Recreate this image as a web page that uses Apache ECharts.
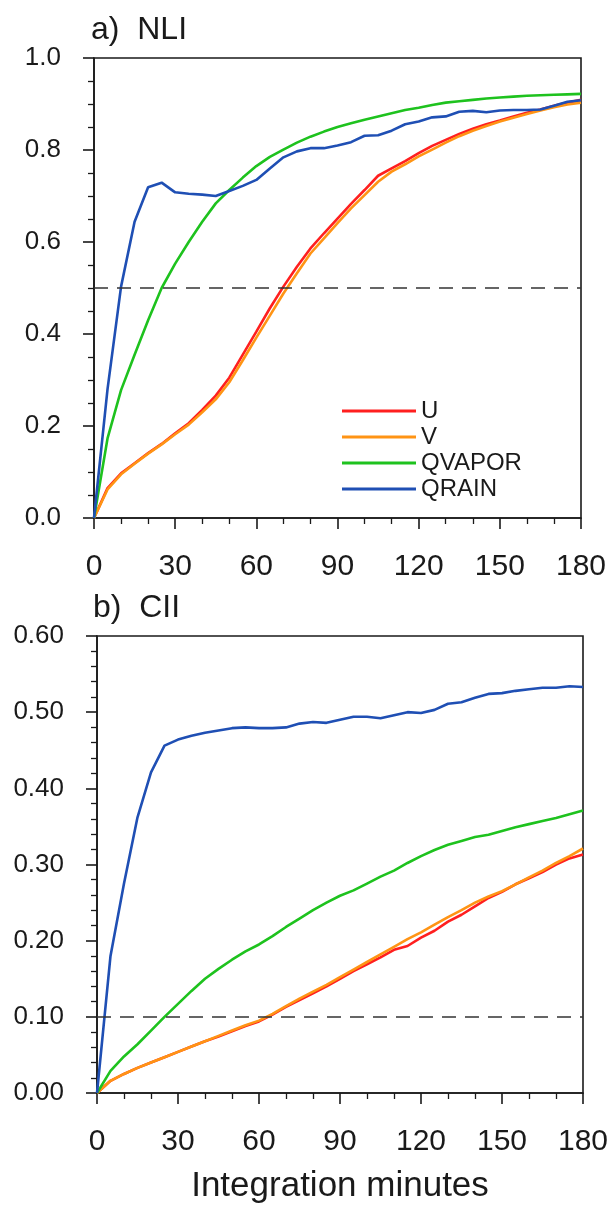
<!DOCTYPE html>
<html>
<head>
<meta charset="utf-8">
<script src="https://cdn.jsdelivr.net/npm/echarts@6/dist/echarts.min.js"></script>
<style>
  html, body { margin: 0; padding: 0; background: #fff; overflow: hidden; }
  #chart { width: 612px; height: 1205px; }
</style>
</head>
<body>
<div id="chart"></div>
<script>
// Integration time (minutes), every 5 minutes
const minutes = [0, 5, 10, 15, 20, 25, 30, 35, 40, 45,
  50, 55, 60, 65, 70, 75, 80, 85, 90, 95,
  100, 105, 110, 115, 120, 125, 130, 135, 140, 145,
  150, 155, 160, 165, 170, 175, 180];

const seriesNames = ['U', 'V', 'QVAPOR', 'QRAIN'];
const seriesColors = ['#ff1f1f', '#ff9414', '#1ec21e', '#1f4fb4'];

// a) NLI
const nliU = [0, 0.065, 0.097, 0.119, 0.141, 0.161, 0.184, 0.206, 0.235, 0.266,
  0.305, 0.355, 0.405, 0.456, 0.503, 0.546, 0.586, 0.619, 0.651, 0.683,
  0.713, 0.744, 0.760, 0.776, 0.793, 0.809, 0.822, 0.835, 0.846, 0.856,
  0.864, 0.873, 0.881, 0.888, 0.896, 0.903, 0.909];
const nliV = [0, 0.062, 0.095, 0.118, 0.140, 0.160, 0.182, 0.203, 0.230, 0.258,
  0.295, 0.343, 0.392, 0.440, 0.488, 0.532, 0.575, 0.608, 0.641, 0.673,
  0.702, 0.731, 0.753, 0.769, 0.786, 0.801, 0.816, 0.830, 0.842, 0.852,
  0.862, 0.870, 0.878, 0.886, 0.893, 0.899, 0.903];
const nliQvapor = [0, 0.173, 0.278, 0.355, 0.430, 0.500, 0.553, 0.600, 0.644, 0.684,
  0.713, 0.740, 0.765, 0.785, 0.801, 0.816, 0.829, 0.840, 0.850, 0.858,
  0.866, 0.873, 0.880, 0.887, 0.892, 0.898, 0.903, 0.906, 0.909, 0.912,
  0.914, 0.916, 0.918, 0.919, 0.920, 0.921, 0.922];
const nliQrain = [0, 0.280, 0.503, 0.644, 0.719, 0.729, 0.708, 0.705, 0.703, 0.700,
  0.711, 0.722, 0.735, 0.760, 0.784, 0.797, 0.804, 0.804, 0.810, 0.817,
  0.831, 0.832, 0.842, 0.856, 0.862, 0.871, 0.873, 0.883, 0.885, 0.882,
  0.886, 0.887, 0.887, 0.888, 0.896, 0.905, 0.908];

// b) CII
const ciiU = [0, 0.016, 0.025, 0.033, 0.040, 0.047, 0.054, 0.061, 0.068, 0.074,
  0.081, 0.088, 0.094, 0.103, 0.113, 0.122, 0.131, 0.140, 0.150, 0.160,
  0.169, 0.178, 0.188, 0.193, 0.204, 0.213, 0.225, 0.234, 0.245, 0.256,
  0.264, 0.274, 0.282, 0.290, 0.300, 0.308, 0.313];
const ciiV = [0, 0.016, 0.025, 0.033, 0.040, 0.047, 0.054, 0.061, 0.068, 0.075,
  0.082, 0.089, 0.095, 0.104, 0.114, 0.124, 0.133, 0.142, 0.152, 0.162,
  0.172, 0.182, 0.192, 0.202, 0.211, 0.221, 0.231, 0.240, 0.250, 0.258,
  0.265, 0.274, 0.283, 0.292, 0.302, 0.311, 0.321];
const ciiQvapor = [0, 0.029, 0.048, 0.064, 0.082, 0.100, 0.117, 0.134, 0.150, 0.163,
  0.175, 0.186, 0.195, 0.206, 0.218, 0.229, 0.240, 0.250, 0.259, 0.266,
  0.275, 0.284, 0.292, 0.302, 0.311, 0.319, 0.326, 0.331, 0.336, 0.339,
  0.344, 0.349, 0.353, 0.357, 0.361, 0.366, 0.371];
const ciiQrain = [0, 0.180, 0.275, 0.362, 0.421, 0.456, 0.464, 0.469, 0.473, 0.476,
  0.479, 0.480, 0.479, 0.479, 0.480, 0.485, 0.487, 0.486, 0.490, 0.494,
  0.494, 0.492, 0.496, 0.500, 0.499, 0.503, 0.511, 0.513, 0.519, 0.524,
  0.525, 0.528, 0.530, 0.532, 0.532, 0.534, 0.533];

// Threshold levels drawn as dashed lines
const nliThreshold = 0.5;
const ciiThreshold = 0.1;

const FONT = '"Liberation Sans", Arial, Helvetica, sans-serif';
const INK = '#1a1a1a';

function pairs(ys) {
  return minutes.map((m, i) => [m, ys[i]]);
}

function xAxisFor(gridIndex, withName) {
  const ax = {
    type: 'value', gridIndex: gridIndex, min: 0, max: 180, interval: 30,
    axisLine: { onZero: false, lineStyle: { color: INK, width: 1.6 } },
    axisTick: { show: true, inside: false, length: 11, lineStyle: { color: INK, width: 1.6 } },
    minorTick: { show: true, splitNumber: 3, length: 6, lineStyle: { color: INK, width: 1.3 } },
    splitLine: { show: false },
    axisLabel: { fontFamily: FONT, fontSize: 30, color: INK, margin: 34 }
  };
  if (withName) {
    ax.name = 'Integration minutes';
    ax.nameLocation = 'middle';
    ax.nameGap = 76;
    ax.nameTextStyle = { fontFamily: FONT, fontSize: 35, color: INK };
  }
  return ax;
}

function yAxisFor(gridIndex, max, interval, minorSplit, digits) {
  return {
    type: 'value', gridIndex: gridIndex, min: 0, max: max, interval: interval,
    axisLine: { show: true, onZero: false, lineStyle: { color: INK, width: 1.6 } },
    axisTick: { show: true, inside: false, length: 11, lineStyle: { color: INK, width: 1.6 } },
    minorTick: { show: true, splitNumber: minorSplit, length: 6, lineStyle: { color: INK, width: 1.3 } },
    splitLine: { show: false },
    axisLabel: {
      fontFamily: FONT, fontSize: 26, color: INK, margin: 33,
      formatter: v => v.toFixed(digits)
    }
  };
}

function lineSeries(name, idx, gridIndex, ys, threshold) {
  const s = {
    name: name, type: 'line',
    xAxisIndex: gridIndex, yAxisIndex: gridIndex,
    data: pairs(ys),
    symbol: 'none', showSymbol: false,
    lineStyle: { color: seriesColors[idx], width: 2.6 },
    itemStyle: { color: seriesColors[idx] },
    emphasis: { disabled: true },
    animation: false
  };
  if (threshold !== undefined) {
    s.markLine = {
      silent: true, symbol: 'none', animation: false,
      label: { show: false },
      lineStyle: { color: '#333333', width: 1.5, type: [14, 9] },
      data: [{ yAxis: threshold }]
    };
  }
  return s;
}

const chart = echarts.init(document.getElementById('chart'), null, { renderer: 'canvas' });

chart.setOption({
  backgroundColor: '#ffffff',
  animation: false,
  title: [
    { text: 'a)  NLI', left: 86, top: 9,
      textStyle: { fontFamily: FONT, fontSize: 32, fontWeight: 'normal', color: INK } },
    { text: 'b)  CII', left: 88, top: 587,
      textStyle: { fontFamily: FONT, fontSize: 32, fontWeight: 'normal', color: INK } }
  ],
  legend: {
    data: seriesNames.map(n => ({ name: n, icon: 'rect' })),
    orient: 'vertical',
    left: 342, top: 398,
    itemWidth: 74, itemHeight: 3, itemGap: 0,
    padding: 0,
    selectedMode: false,
    textStyle: { fontFamily: FONT, fontSize: 24, color: INK, lineHeight: 26 }
  },
  grid: [
    { left: 94, top: 58, width: 487, height: 460, show: true, borderColor: INK, borderWidth: 1.6, containLabel: false },
    { left: 97, top: 636, width: 486, height: 460, show: true, borderColor: INK, borderWidth: 1.6, containLabel: false }
  ],
  xAxis: [xAxisFor(0, false), xAxisFor(1, true)],
  yAxis: [
    yAxisFor(0, 1.0, 0.2, 4, 1),
    yAxisFor(1, 0.6, 0.1, 5, 2)
  ],
  series: [
    lineSeries('U', 0, 0, nliU, nliThreshold),
    lineSeries('V', 1, 0, nliV),
    lineSeries('QVAPOR', 2, 0, nliQvapor),
    lineSeries('QRAIN', 3, 0, nliQrain),
    lineSeries('U', 0, 1, ciiU, ciiThreshold),
    lineSeries('V', 1, 1, ciiV),
    lineSeries('QVAPOR', 2, 1, ciiQvapor),
    lineSeries('QRAIN', 3, 1, ciiQrain)
  ]
});
</script>
</body>
</html>
